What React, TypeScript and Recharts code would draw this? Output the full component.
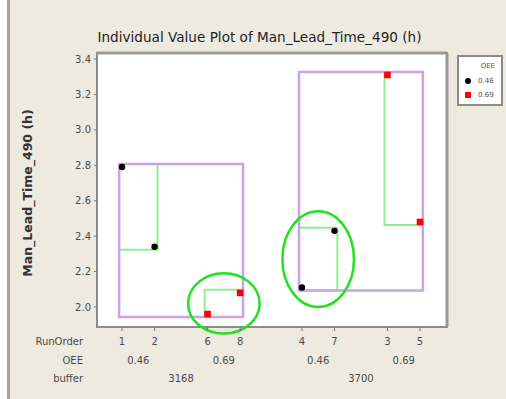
import React from 'react';
import { ScatterChart, Scatter, XAxis, YAxis, ReferenceArea, ReferenceLine, Legend } from 'recharts';

// Run data: one entry per run, in plotted order
const runOrder = [1, 2, 6, 8, 4, 7, 3, 5];
const oeeLevel = ['0.46', '0.46', '0.69', '0.69', '0.46', '0.46', '0.69', '0.69'];
const bufferSize = ['3168', '3168', '3168', '3168', '3700', '3700', '3700', '3700'];
const leadTime = [2.79, 2.34, 1.96, 2.08, 2.11, 2.43, 3.31, 2.48];

const oeeSeries = ['0.46', '0.69'];
const yTicks = [2.0, 2.2, 2.4, 2.6, 2.8, 3.0, 3.2, 3.4];
const circledGroups = [
  { buffer: '3168', oee: '0.69' },
  { buffer: '3700', oee: '0.46' },
];

const W = 506;
const H = 399;
const FONT = '"DejaVu Sans", Verdana, sans-serif';

// extra spacing inserted between groups on the x axis
const OEE_GAP = 0.63;
const BUFFER_GAP = 0.9;
const X_DOMAIN: [number, number] = [-0.77, 9.99];
const Y_DOMAIN: [number, number] = [1.887, 3.434];
const PAD_X = 0.09;
const PAD_Y = 0.017;
const RING_PAD_X = 0.6;
const RING_PAD_Y = 0.11;

const positions: number[] = [];
runOrder.forEach((_, i) => {
  if (i === 0) {
    positions.push(0);
    return;
  }
  let step = 1;
  if (bufferSize[i] !== bufferSize[i - 1]) step += BUFFER_GAP;
  else if (oeeLevel[i] !== oeeLevel[i - 1]) step += OEE_GAP;
  positions.push(positions[i - 1] + step);
});

const points = runOrder.map((run, i) => ({
  pos: positions[i],
  run,
  oee: oeeLevel[i],
  buffer: bufferSize[i],
  value: leadTime[i],
}));

type Group = { key: string; label: string; buffer: string; oee: string; x1: number; x2: number; y1: number; y2: number; center: number };

function groupBy(keyOf: (p: typeof points[0]) => string, labelOf: (p: typeof points[0]) => string): Group[] {
  const groups: Group[] = [];
  points.forEach((p) => {
    const key = keyOf(p);
    let g = groups.find((q) => q.key === key);
    if (!g) {
      g = { key, label: labelOf(p), buffer: p.buffer, oee: p.oee, x1: p.pos, x2: p.pos, y1: p.value, y2: p.value, center: 0 };
      groups.push(g);
    }
    g.x1 = Math.min(g.x1, p.pos);
    g.x2 = Math.max(g.x2, p.pos);
    g.y1 = Math.min(g.y1, p.value);
    g.y2 = Math.max(g.y2, p.value);
  });
  groups.forEach((g) => (g.center = (g.x1 + g.x2) / 2));
  return groups;
}

const oeeGroups = groupBy((p) => p.buffer + '/' + p.oee, (p) => p.oee);
const bufferGroups = groupBy((p) => p.buffer, (p) => p.buffer);

const rowTick = (labels: string[], rowName: string, dy: number) => (props: any) => {
  const { x, y, index } = props;
  return (
    <g>
      <text x={x} y={y + dy} textAnchor="middle" fontSize={10} fontFamily={FONT} fill="#4a4a4a">
        {labels[index]}
      </text>
      {index === 0 && (
        <text x={83} y={y + dy} textAnchor="end" fontSize={10} fontFamily={FONT} fill="#4a4a4a">
          {rowName}
        </text>
      )}
    </g>
  );
};

const LegendBox = ({ payload }: any) => (
  <div
    style={{
      width: 42,
      height: 47,
      border: '2px solid #8a8a8a',
      background: '#fff',
      fontFamily: FONT,
      fontSize: 7,
      color: '#555',
      position: 'relative',
    }}
  >
    <div style={{ position: 'absolute', right: 6, top: 5 }}>OEE</div>
    {(payload || []).map((item: any, i: number) => (
      <div key={item.value} style={{ position: 'absolute', left: 6, top: 20 + i * 14, display: 'flex', alignItems: 'center' }}>
        {i === 0 ? (
          <span style={{ width: 6, height: 6, borderRadius: 3, background: item.color, display: 'inline-block' }} />
        ) : (
          <span style={{ width: 6, height: 6, background: item.color, display: 'inline-block' }} />
        )}
        <span style={{ marginLeft: 7 }}>{item.value}</span>
      </div>
    ))}
  </div>
);

const Dot = (props: any) => <circle cx={props.cx} cy={props.cy} r={3.2} fill="#000" />;
const Square = (props: any) => <rect x={props.cx - 3.3} y={props.cy - 3.3} width={6.6} height={6.6} fill="#ff0000" />;

const Ring = (props: any) => (
  <ellipse
    cx={props.x + props.width / 2}
    cy={props.y + props.height / 2}
    rx={props.width / 2}
    ry={props.height / 2}
    fill="none"
    stroke="#22e022"
    strokeWidth={2.5}
  />
);

export default function App() {
  return (
    <div style={{ position: 'absolute', left: 0, top: 0, width: W, height: H, background: '#fff', overflow: 'hidden' }}>
      <div style={{ position: 'absolute', left: 7, top: 0, width: 3, height: H, background: '#a3a29a' }} />
      <div style={{ position: 'absolute', left: 10, top: 0, width: W - 10, height: H, background: '#eeeae0' }} />
      <div
        style={{
          position: 'absolute',
          left: 9,
          width: 501,
          top: 29,
          textAlign: 'center',
          fontFamily: FONT,
          fontSize: 13.6,
          lineHeight: '16px',
          color: '#222',
        }}
      >
        Individual Value Plot of Man_Lead_Time_490 (h)
      </div>
      <div style={{ position: 'absolute', left: 0, top: 0 }}>
        <ScatterChart width={W} height={H} margin={{ top: 53, right: 59, left: 57, bottom: 18 }}>
          {/* rows under the plot, stacked by axis id: a_ nearest the plot */}
          <XAxis
            xAxisId="a_run"
            type="number"
            dataKey="pos"
            domain={X_DOMAIN}
            ticks={positions}
            allowDataOverflow
            height={18}
            axisLine={false}
            tickLine={{ stroke: '#777' }}
            tickSize={4}
            tickMargin={0}
            tick={rowTick(runOrder.map(String), 'RunOrder', 14)}
            interval={0}
          />
          <XAxis
            xAxisId="b_oee"
            type="number"
            dataKey="pos"
            domain={X_DOMAIN}
            ticks={oeeGroups.map((g) => g.center)}
            allowDataOverflow
            height={18}
            axisLine={false}
            tickLine={false}
            tickSize={0}
            tickMargin={0}
            tick={rowTick(oeeGroups.map((g) => g.label), 'OEE', 19)}
            interval={0}
          />
          <XAxis
            xAxisId="c_buf"
            type="number"
            dataKey="pos"
            domain={X_DOMAIN}
            ticks={bufferGroups.map((g) => g.center)}
            allowDataOverflow
            height={18}
            axisLine={false}
            tickLine={false}
            tickSize={0}
            tickMargin={0}
            tick={rowTick(bufferGroups.map((g) => g.label), 'buffer', 19)}
            interval={0}
          />
          <YAxis
            type="number"
            dataKey="value"
            domain={Y_DOMAIN}
            ticks={yTicks}
            allowDataOverflow
            width={40}
            axisLine={false}
            tickLine={{ stroke: '#777' }}
            tickSize={3}
            tickMargin={3}
            tick={{ fontSize: 10, fontFamily: FONT, fill: '#4a4a4a' }}
            tickFormatter={(v: number) => v.toFixed(1)}
            label={{
              content: () => (
                <text
                  x={27}
                  y={193}
                  transform="rotate(-90 27 193)"
                  textAnchor="middle"
                  dominantBaseline="central"
                  fontSize={12.5}
                  fontWeight="bold"
                  fontFamily={FONT}
                  fill="#333"
                >
                  Man_Lead_Time_490 (h)
                </text>
              ),
            }}
          />

          {/* plot frame */}
          <ReferenceArea
            xAxisId="a_run"
            x1={X_DOMAIN[0]}
            x2={X_DOMAIN[1]}
            y1={Y_DOMAIN[0]}
            y2={Y_DOMAIN[1]}
            fill="#fff"
            fillOpacity={1}
            stroke="#8c8c8c"
            strokeWidth={2}
          />
          <ReferenceLine xAxisId="a_run" y={Y_DOMAIN[1]} stroke="#999" strokeWidth={3} />
          <ReferenceLine xAxisId="a_run" x={X_DOMAIN[1]} stroke="#999" strokeWidth={3} />

          {/* OEE group ranges */}
          {oeeGroups.map((g) => (
            <ReferenceArea
              key={'g' + g.key}
              xAxisId="a_run"
              x1={g.x1 - PAD_X}
              x2={g.x2 + PAD_X}
              y1={g.y1 - PAD_Y}
              y2={g.y2 + PAD_Y}
              fill="none"
              stroke="#8ef08e"
              strokeWidth={2}
            />
          ))}
          {/* buffer group ranges */}
          {bufferGroups.map((g) => (
            <ReferenceArea
              key={'b' + g.key}
              xAxisId="a_run"
              x1={g.x1 - PAD_X}
              x2={g.x2 + PAD_X}
              y1={g.y1 - PAD_Y}
              y2={g.y2 + PAD_Y}
              fill="none"
              stroke="#c9a2e8"
              strokeWidth={2.5}
            />
          ))}

          {oeeSeries.map((level, i) => (
            <Scatter
              key={level}
              name={level}
              xAxisId="a_run"
              data={points.filter((p) => p.oee === level)}
              fill={i === 0 ? '#000' : '#ff0000'}
              shape={i === 0 ? Dot : Square}
              isAnimationActive={false}
            />
          ))}

          {/* highlighted groups */}
          {circledGroups.map((c) => {
            const g = oeeGroups.find((q) => q.buffer === c.buffer && q.oee === c.oee)!;
            return (
              <ReferenceArea
                key={'r' + g.key}
                xAxisId="a_run"
                x1={g.x1 - RING_PAD_X}
                x2={g.x2 + RING_PAD_X}
                y1={g.y1 - RING_PAD_Y}
                y2={g.y2 + RING_PAD_Y}
                ifOverflow="visible"
                shape={Ring}
              />
            );
          })}

          <Legend
            layout="horizontal"
            align="center"
            verticalAlign="middle"
            content={LegendBox}
            wrapperStyle={{ position: 'absolute', left: 457, top: 55, width: 46, height: 51 }}
          />
        </ScatterChart>
      </div>
    </div>
  );
}
